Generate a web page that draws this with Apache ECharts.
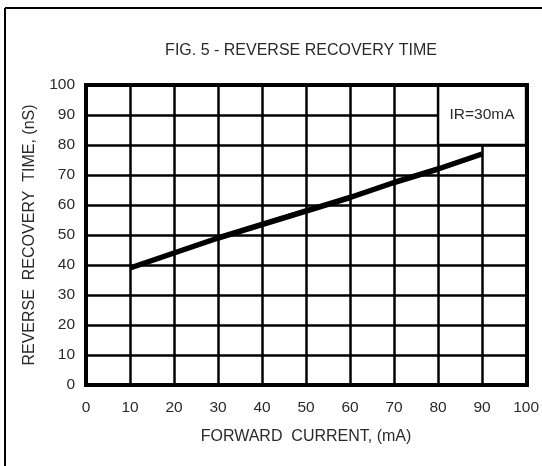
<!DOCTYPE html>
<html>
<head>
<meta charset="utf-8">
<script src="https://cdn.jsdelivr.net/npm/echarts@6/dist/echarts.min.js"></script>
<style>html,body{margin:0;padding:0;background:#fff;}#c{width:542px;height:466px;}</style>
</head>
<body>
<div id="c"></div>
<script>
var titleText = 'FIG. 5 - REVERSE RECOVERY TIME';
var xName = 'FORWARD  CURRENT, (mA)';
var yName = 'REVERSE  RECOVERY  TIME, (nS)';
var noteText = 'IR=30mA';
var forwardCurrent = [10, 20, 30, 40, 50, 60, 70, 80, 90];
var recoveryTime = [39, 44, 49, 53.5, 58, 62.5, 67.5, 72, 77];
var noteBox = [80, 80, 100, 100];

var font = 'Liberation Sans, Arial, sans-serif';
var txt = '#2a2a2a';
var fs = 15.5;
var G = {left: 86, top: 85, width: 441, height: 300};

var chart = echarts.init(document.getElementById('c'));
chart.setOption({
  backgroundColor: '#fff',
  animation: false,
  title: {
    text: titleText, left: 296, top: 38, textAlign: 'center',
    textStyle: {fontFamily: font, fontSize: 16, fontWeight: 'normal', color: txt}
  },
  grid: {left: G.left, top: G.top, width: G.width, height: G.height, show: false},
  xAxis: {
    type: 'value', min: 0, max: 100, interval: 10,
    name: xName, nameLocation: 'middle', nameGap: 44,
    nameTextStyle: {fontFamily: font, fontSize: 16, color: txt},
    axisLine: {show: false}, axisTick: {show: false},
    axisLabel: {fontFamily: font, fontSize: fs, color: txt, margin: 15},
    splitLine: {show: true, lineStyle: {color: '#000', width: 2.5}}
  },
  yAxis: {
    type: 'value', min: 0, max: 100, interval: 10,
    name: yName, nameLocation: 'middle', nameGap: 48,
    nameTextStyle: {fontFamily: font, fontSize: 16, color: txt},
    axisLine: {show: false}, axisTick: {show: false},
    axisLabel: {fontFamily: font, fontSize: fs, color: txt, margin: 11},
    splitLine: {show: true, lineStyle: {color: '#000', width: 2.5}}
  },
  series: [{
    type: 'line',
    data: forwardCurrent.map(function (x, i) { return [x, recoveryTime[i]]; }),
    showSymbol: false, symbol: 'none',
    lineStyle: {color: '#000', width: 5.5, cap: 'butt'},
    markArea: {
      silent: true,
      itemStyle: {color: '#fff', borderColor: '#000', borderWidth: 2.5},
      label: {show: true, position: 'inside', formatter: noteText,
              fontFamily: font, fontSize: fs, color: txt},
      data: [[{coord: [noteBox[0], noteBox[1]]}, {coord: [noteBox[2], noteBox[3]]}]]
    }
  }],
  graphic: [
    {type: 'rect', z: 100, silent: true,
     shape: {x: G.left, y: G.top, width: G.width, height: G.height},
     style: {fill: null, stroke: '#000', lineWidth: 4}},
    {type: 'line', z: 100, silent: true, shape: {x1: 5, y1: 8, x2: 542, y2: 8},
     style: {stroke: '#000', lineWidth: 2}},
    {type: 'line', z: 100, silent: true, shape: {x1: 5, y1: 8, x2: 5, y2: 466},
     style: {stroke: '#000', lineWidth: 2}}
  ]
});
</script>
</body>
</html>
